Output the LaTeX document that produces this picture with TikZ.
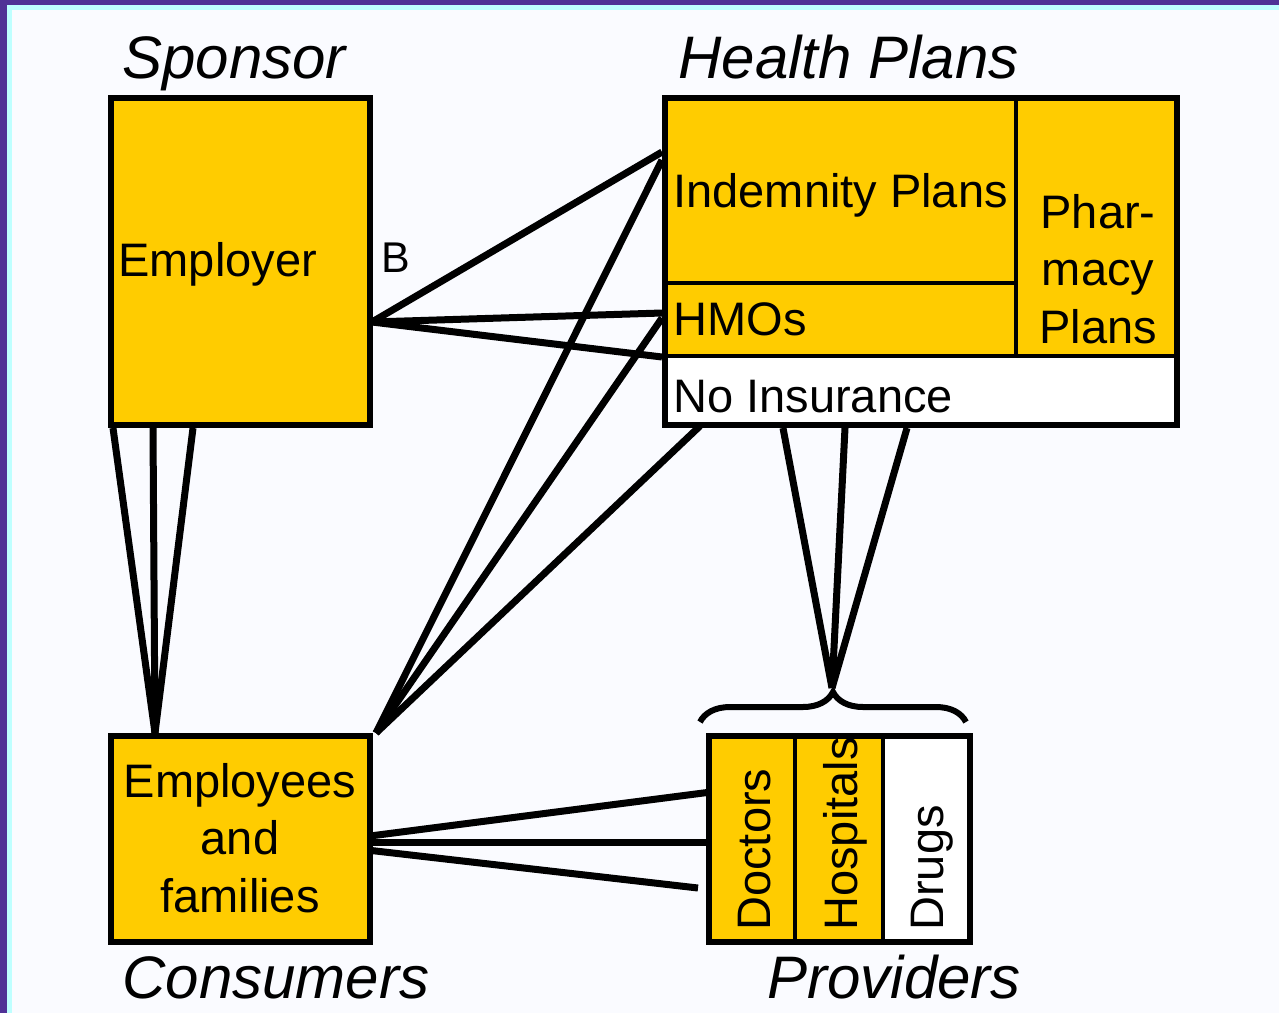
\documentclass[tikz,border=0pt]{standalone}
\usepackage{fontspec}
\setmainfont{Liberation Sans}
\usetikzlibrary{decorations.pathreplacing}
\definecolor{gold}{RGB}{255,204,0}
\definecolor{paper}{RGB}{250,251,255}
\definecolor{frame}{RGB}{80,50,150}
\definecolor{rim}{RGB}{190,255,255}

\begin{document}
\begin{tikzpicture}[x=0.5pt,y=-0.5pt, inner sep=0pt,
  box/.style={draw=black, line width=3pt},
  part/.style={draw=black, line width=2pt},
  link/.style={line width=3.5pt},
  txt/.style={font=\fontsize{23.5}{28.75}\selectfont},
  head/.style={font=\fontsize{30}{36}\selectfont\itshape}]
% page
\fill[paper] (0,0) rectangle (1279,1013);
\fill[frame] (0,0) rectangle (1279,5);
\fill[frame] (0,0) rectangle (7,1013);
\fill[rim] (7,5) rectangle (1279,10);
\fill[rim] (7,10) rectangle (12,1013);
\useasboundingbox (0,0) rectangle (1279,1013);
% end points
\coordinate (empR) at (372,322);
\coordinate (empB1) at (113,428);
\coordinate (empB2) at (153,428);
\coordinate (empB3) at (193,428);
\coordinate (conT) at (155,733);
\coordinate (conTR) at (376,733);
\coordinate (conR1) at (370,836);
\coordinate (conR2) at (370,842);
\coordinate (conR3) at (367,850);
\coordinate (indL) at (662,152);
\coordinate (indL2) at (662,160);
\coordinate (hmoL) at (662,313);
\coordinate (hmoL2) at (662,318);
\coordinate (noL) at (662,357);
\coordinate (noB) at (700,426);
\coordinate (hpB1) at (783,428);
\coordinate (hpB2) at (845,428);
\coordinate (hpB3) at (907,428);
\coordinate (docL1) at (711,792);
\coordinate (docL2) at (709,842);
\coordinate (docL3) at (698,888);
\coordinate (brl) at (700,722);
\coordinate (brr) at (966,722);
\coordinate (brtip) at (832,688);
% connectors
\draw[link] (empR) -- (indL);
\draw[link] (empR) -- (hmoL);
\draw[link] (empR) -- (noL);
\draw[link] (empB1) -- (conT);
\draw[link] (empB2) -- (conT);
\draw[link] (empB3) -- (conT);
\draw[link] (conTR) -- (indL2);
\draw[link] (conTR) -- (hmoL2);
\draw[link] (conTR) -- (noB);
\draw[link] (conR1) -- (docL1);
\draw[link] (conR2) -- (docL2);
\draw[link] (conR3) -- (docL3);
\draw[link] (hpB1) -- (brtip);
\draw[link] (hpB2) -- (brtip);
\draw[link] (hpB3) -- (brtip);
\draw[line width=3pt, decorate, decoration={brace, amplitude=15pt}] (brl) -- (brr);
% sponsor
\fill[gold] (111,98) rectangle (370,425);
\draw[box] (111,98) rectangle (370,425);
% health plans
\fill[gold] (665,98) rectangle (1177,356);
\fill[white] (665,356) rectangle (1177,425);
\draw[part] (665,283) -- (1016,283);
\draw[part] (1016,98) -- (1016,356);
\draw[part] (665,356) -- (1177,356);
\draw[box] (665,98) rectangle (1177,425);
% consumers
\fill[gold] (111,736) rectangle (370,942);
\draw[box] (111,736) rectangle (370,942);
% providers
\fill[gold] (709,736) rectangle (883,942);
\fill[white] (883,736) rectangle (970,942);
\draw[part] (795,736) -- (795,942);
\draw[part] (883,736) -- (883,942);
\draw[box] (709,736) rectangle (970,942);
% labels
\node (sponsor) at (122,78) [head, anchor=base west] {Sponsor};
\node (health) at (678,78) [head, anchor=base west] {Health Plans};
\node (consumers) at (122,998) [head, anchor=base west] {Consumers};
\node (providers) at (767,998) [head, anchor=base west] {Providers};
\node (employer) at (118,276) [txt, anchor=base west] {Employer};
\node (b) at (381,272) [font=\fontsize{21.5}{26}\selectfont, anchor=base west] {B};
\node (indemnity) at (673,207) [txt, anchor=base west] {Indemnity Plans};
\node (hmo) at (673,335) [txt, anchor=base west] {HMOs};
\node (noins) at (673,412) [txt, anchor=base west] {No Insurance};
\node (pharmacy) at (1098,194) [txt, anchor=north, align=center] {Phar-\\macy\\Plans};
\node (employees) at (240,763) [txt, anchor=north, align=center] {Employees\\and\\families};
\node (doctors) at (770,931) [txt, anchor=base west, rotate=90] {Doctors};
\node (hospitals) at (857,931) [txt, anchor=base west, rotate=90] {Hospitals};
\node (drugs) at (943,931) [txt, anchor=base west, rotate=90] {Drugs};
\end{tikzpicture}
\end{document}
